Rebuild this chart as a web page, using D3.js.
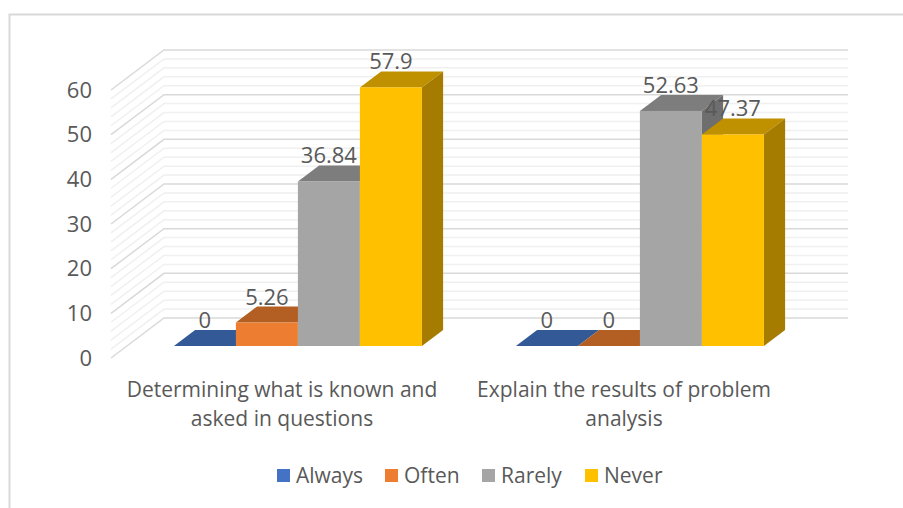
<!DOCTYPE html>
<html>
<head>
<meta charset="utf-8">
<script src="https://cdn.jsdelivr.net/npm/d3@7"></script>
<style>
	html, body { margin: 0; padding: 0; background: #fff; overflow: hidden; }
	text { font-family: "Open Sans", sans-serif; fill: #595959; }
</style>
</head>
<body>
<div id="chart"></div>
<script>
const categories = ["Determining what is known and asked in questions", "Explain the results of problem analysis"];
const seriesNames = ["Always", "Often", "Rarely", "Never"];
const always = [0, 0];
const often = [5.26, 0];
const rarely = [36.84, 52.63];
const never = [57.9, 47.37];
const yTicks = [0, 10, 20, 30, 40, 50, 60];
const minorTicks = d3.range(0, 60.1, 2);

const frontColors = ["#4472c4", "#ed7d31", "#a5a5a5", "#ffc000"];
const barFrontColors = ["#3a62a8", "#ed7d31", "#a5a5a5", "#ffc000"];
const topColors = ["#335a96", "#b35e22", "#7d7d7d", "#bf9000"];
const sideColors = ["#2a4a7c", "#9c5220", "#6e6e6e", "#a67c00"];

const width = 903, height = 508;
const series = [always, often, rarely, never];

const svg = d3.select("#chart").append("svg")
	.attr("width", width)
	.attr("height", height);

// chart frame
svg.append("path")
	.attr("d", `M9.5,${height} V14.5 H${width}`)
	.attr("fill", "none")
	.attr("stroke", "#d9d9d9")
	.attr("stroke-width", 2);

// front edge of the floor is depth 0, back wall is depth 1
const scaleX = d3.scaleBand().domain(categories).range([111, 795]);
const scaleY = d3.scaleLinear().domain([0, 60]).range([358, 90]);
const depthX = d3.scaleLinear().domain([0, 1]).range([0, 53]);
const depthY = d3.scaleLinear().domain([0, 1]).range([0, -40]);

const barDepthStart = 0.3, barDepthEnd = 0.7;
const barWidth = 62;

const px = (x, d) => x + depthX(d);
const py = (v, d) => scaleY(v) + depthY(d);

// gridlines, side wall and back wall
const gridLine = (v) => `M${px(scaleX.range()[0], 0)},${py(v, 0)}`
	+ ` L${px(scaleX.range()[0], 1)},${py(v, 1)}`
	+ ` H${px(scaleX.range()[1], 1)}`;

svg.append("g").selectAll("path")
	.data(minorTicks.filter((d) => d % 10 !== 0))
	.enter()
	.append("path")
	.attr("d", gridLine)
	.attr("fill", "none")
	.attr("stroke", "#f0f0f0")
	.attr("stroke-width", 1.5);

svg.append("g").selectAll("path")
	.data(yTicks)
	.enter()
	.append("path")
	.attr("d", gridLine)
	.attr("fill", "none")
	.attr("stroke", "#d9d9d9")
	.attr("stroke-width", 1.5);

// bars
const bars = [];
categories.forEach((cat, c) => {
	const center = scaleX(cat) + scaleX.bandwidth() / 2 + depthX(barDepthStart);
	series.forEach((values, s) => {
		const x0 = center - barWidth * 2 + s * barWidth;
		bars.push({ c, s, x0, x1: x0 + barWidth, value: values[c] });
	});
});

const barGroups = svg.append("g").selectAll("g")
	.data(bars)
	.enter()
	.append("g");

const depthSpan = barDepthEnd - barDepthStart;

barGroups.append("path")
	.attr("fill", (d) => topColors[d.s])
	.attr("d", (d) => {
		const y = py(d.value, barDepthStart);
		return `M${d.x0},${y} L${d.x1},${y}`
			+ ` L${d.x1 + depthX(depthSpan)},${y + depthY(depthSpan)}`
			+ ` L${d.x0 + depthX(depthSpan)},${y + depthY(depthSpan)} Z`;
	});

barGroups.append("path")
	.attr("fill", (d) => sideColors[d.s])
	.attr("d", (d) => {
		const y0 = py(0, barDepthStart), y1 = py(d.value, barDepthStart);
		return `M${d.x1},${y0} L${d.x1},${y1}`
			+ ` L${d.x1 + depthX(depthSpan)},${y1 + depthY(depthSpan)}`
			+ ` L${d.x1 + depthX(depthSpan)},${y0 + depthY(depthSpan)} Z`;
	});

barGroups.append("rect")
	.attr("x", (d) => d.x0)
	.attr("y", (d) => py(d.value, barDepthStart))
	.attr("width", barWidth)
	.attr("height", (d) => py(0, barDepthStart) - py(d.value, barDepthStart))
	.attr("fill", (d) => barFrontColors[d.s]);

// data labels sit on top of every bar
svg.append("g").selectAll("text")
	.data(bars)
	.enter()
	.append("text")
	.attr("x", (d) => (d.x0 + d.x1) / 2)
	.attr("y", (d) => py(d.value, barDepthEnd) - 2)
	.attr("text-anchor", "middle")
	.attr("font-size", 22)
	.text((d) => d.value);

// axes
const axisY = d3.axisLeft(scaleY).tickValues(yTicks).tickSize(0).tickPadding(0);
const gy = svg.append("g")
	.attr("transform", "translate(92,0)")
	.call(axisY);
gy.select(".domain").remove();
gy.selectAll("text")
	.style("font-family", null)
	.attr("font-size", 22);

const axisX = d3.axisBottom(scaleX).tickSize(0).tickPadding(0);
const gx = svg.append("g")
	.attr("transform", "translate(0,371)")
	.call(axisX);
gx.select(".domain").remove();
gx.selectAll("text")
	.style("font-family", null)
	.attr("dy", 0)
	.attr("font-size", 21)
	.call(wrap, 325);

function wrap(selection, maxWidth) {
	selection.each(function (label) {
		const text = d3.select(this).text(null);
		let line = [];
		let tspan = text.append("tspan").attr("x", 0).attr("y", 26);
		let lineNo = 0;
		label.split(" ").forEach((word) => {
			line.push(word);
			tspan.text(line.join(" "));
			if (tspan.node().getComputedTextLength() > maxWidth) {
				line.pop();
				tspan.text(line.join(" "));
				line = [word];
				lineNo += 1;
				tspan = text.append("tspan").attr("x", 0).attr("y", 26 + lineNo * 29).text(word);
			}
		});
	});
}

// legend
const legendX = [277, 385, 482, 585];
const legend = svg.append("g").selectAll("g")
	.data(seriesNames)
	.enter()
	.append("g")
	.attr("transform", (d, i) => `translate(${legendX[i]},469)`);

legend.append("rect")
	.attr("width", 13)
	.attr("height", 13)
	.attr("fill", (d, i) => frontColors[i]);

legend.append("text")
	.attr("x", 19)
	.attr("y", 14)
	.attr("font-size", 21)
	.text((d) => d);
</script>
</body>
</html>
